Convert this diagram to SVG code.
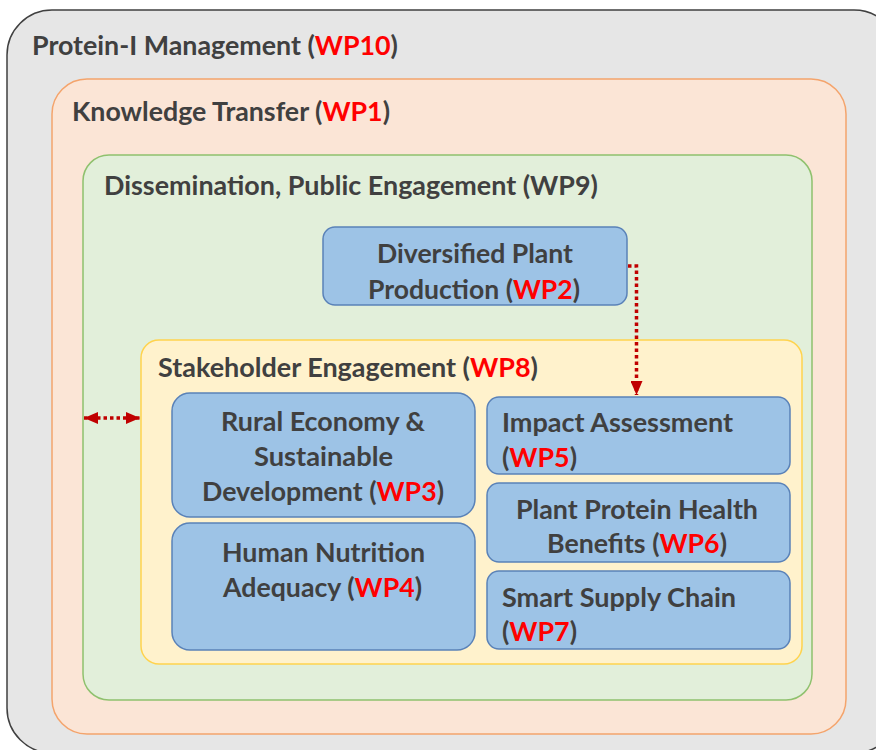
<svg xmlns="http://www.w3.org/2000/svg" width="876" height="750" viewBox="0 0 876 750">
<style>
text{font-family:Lato,"Open Sans","Liberation Sans",sans-serif;font-weight:bold;font-size:26px;fill:#404040}
.r{fill:#ff0000}
.blue{fill:#9dc3e6;stroke:#5a82b8;stroke-width:1.5}
.dot{fill:none;stroke:#c00000;stroke-width:3.5;stroke-dasharray:3.5 3}
</style>
<defs>
<marker id="ah" viewBox="0 0 14 12" markerWidth="14" markerHeight="12" refX="14" refY="6" orient="auto" markerUnits="userSpaceOnUse">
<path d="M0,0 L14,6 L0,12 z" fill="#c00000"/>
</marker>
<marker id="ahs" viewBox="0 0 14 12" markerWidth="14" markerHeight="12" refX="0" refY="6" orient="auto" markerUnits="userSpaceOnUse">
<path d="M14,0 L0,6 L14,12 z" fill="#c00000"/>
</marker>
</defs>
<rect x="0" y="0" width="876" height="750" fill="#ffffff"/>
<g id="wp10">
<rect x="7" y="10" width="892" height="743" rx="45" fill="#e6e6e6" stroke="#404040" stroke-width="1.5"/>
<text x="32" y="55" textLength="366" lengthAdjust="spacingAndGlyphs">Protein-I Management (<tspan class="r">WP10</tspan>)</text>
</g>
<g id="wp1">
<rect x="52" y="79" width="794" height="655" rx="35" fill="#fbe5d6" stroke="#f4a46c" stroke-width="1.5"/>
<text x="72" y="121" textLength="318" lengthAdjust="spacingAndGlyphs">Knowledge Transfer (<tspan class="r">WP1</tspan>)</text>
</g>
<g id="wp9">
<rect x="83" y="155" width="729" height="545" rx="26" fill="#e2efda" stroke="#8fc16e" stroke-width="1.5"/>
<text x="104" y="195" textLength="494" lengthAdjust="spacingAndGlyphs">Dissemination, Public Engagement (WP9)</text>
</g>
<g id="wp2">
<rect class="blue" x="323" y="227" width="304" height="78" rx="12"/>
<text x="377" y="263" textLength="196" lengthAdjust="spacingAndGlyphs">Diversified Plant</text>
<text x="368" y="299" textLength="212" lengthAdjust="spacingAndGlyphs">Production (<tspan class="r">WP2</tspan>)</text>
</g>
<g id="wp8">
<rect x="141" y="340" width="661" height="324" rx="18" fill="#fff2cc" stroke="#ffd34d" stroke-width="1.5"/>
<text x="158" y="377" textLength="380" lengthAdjust="spacingAndGlyphs">Stakeholder Engagement (<tspan class="r">WP8</tspan>)</text>
</g>
<g id="wp3">
<rect class="blue" x="172" y="393" width="303" height="124" rx="18"/>
<text x="221" y="431" textLength="204" lengthAdjust="spacingAndGlyphs">Rural Economy &amp;</text>
<text x="254" y="466" textLength="139" lengthAdjust="spacingAndGlyphs">Sustainable</text>
<text x="202" y="501" textLength="242" lengthAdjust="spacingAndGlyphs">Development (<tspan class="r">WP3</tspan>)</text>
</g>
<g id="wp4">
<rect class="blue" x="172" y="523" width="303" height="127" rx="18"/>
<text x="222" y="562" textLength="203" lengthAdjust="spacingAndGlyphs">Human Nutrition</text>
<text x="223" y="597" textLength="199" lengthAdjust="spacingAndGlyphs">Adequacy (<tspan class="r">WP4</tspan>)</text>
</g>
<g id="wp5">
<rect class="blue" x="487" y="397" width="303" height="77" rx="12"/>
<text x="502" y="432" textLength="231" lengthAdjust="spacingAndGlyphs">Impact Assessment</text>
<text x="502" y="467" textLength="75" lengthAdjust="spacingAndGlyphs">(<tspan class="r">WP5</tspan>)</text>
</g>
<g id="wp6">
<rect class="blue" x="487" y="483" width="303" height="79" rx="12"/>
<text x="516" y="519" textLength="242" lengthAdjust="spacingAndGlyphs">Plant Protein Health</text>
<text x="547" y="553" textLength="180" lengthAdjust="spacingAndGlyphs">Benefits (<tspan class="r">WP6</tspan>)</text>
</g>
<g id="wp7">
<rect class="blue" x="487" y="571" width="303" height="78" rx="12"/>
<text x="502" y="607" textLength="234" lengthAdjust="spacingAndGlyphs">Smart Supply Chain</text>
<text x="502" y="641" textLength="75" lengthAdjust="spacingAndGlyphs">(<tspan class="r">WP7</tspan>)</text>
</g>
<g id="connectors">
<path class="dot" d="M628,266 H636.5 V395" marker-end="url(#ah)"/>
<path class="dot" d="M84,418 H140" marker-start="url(#ahs)" marker-end="url(#ah)"/>
</g>
</svg>
